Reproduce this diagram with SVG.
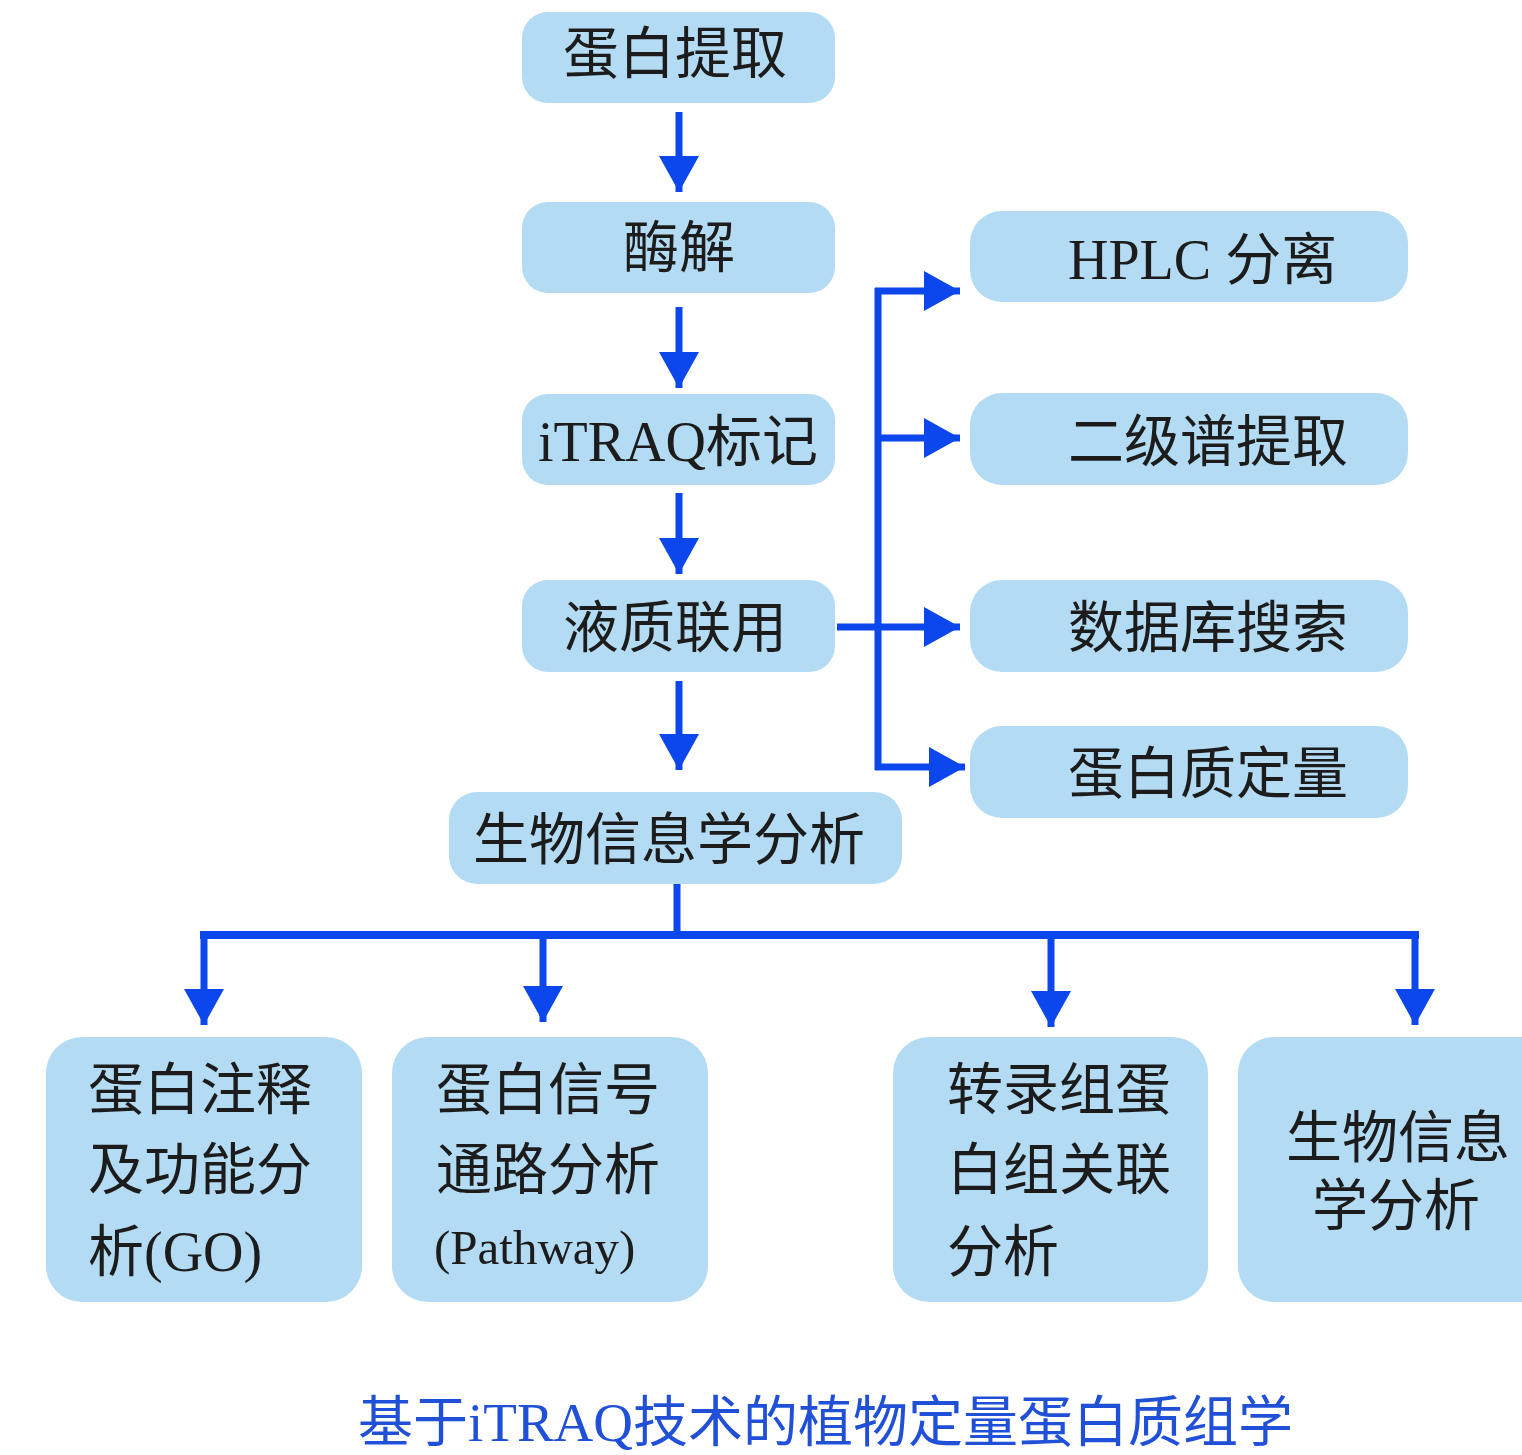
<svg xmlns="http://www.w3.org/2000/svg" width="1522" height="1455" viewBox="0 0 1522 1455">
<defs>
<style>
.box{fill:#b3dcf4;}
.t{font-family:"Noto Sans CJK SC","Noto Sans",sans-serif;font-size:56px;fill:#1c1c1c;}
.s{font-family:"Liberation Serif","Times New Roman",serif;}
.c{stroke:#0b47ec;stroke-width:7;fill:none;}
.cap{font-family:"Noto Sans CJK SC","Noto Sans",sans-serif;font-size:55px;fill:#2150d8;}
</style>
<marker id="ah" markerUnits="userSpaceOnUse" markerWidth="36" markerHeight="40" refX="36" refY="20" orient="auto" viewBox="0 0 36 40">
<path d="M0,0 L36,20 L0,40 z" fill="#0b47ec"/>
</marker>
</defs>
<rect width="1522" height="1455" fill="#ffffff"/>

<g id="connectors">
<path class="c" d="M679,112 V192" marker-end="url(#ah)"/>
<path class="c" d="M679,307 V388" marker-end="url(#ah)"/>
<path class="c" d="M679,493 V574" marker-end="url(#ah)"/>
<path class="c" d="M679,681 V770" marker-end="url(#ah)"/>
<path class="c" d="M878,288 V770"/>
<path class="c" d="M875,291 H960" marker-end="url(#ah)"/>
<path class="c" d="M878,438 H960" marker-end="url(#ah)"/>
<path class="c" d="M837,627 H960" marker-end="url(#ah)"/>
<path class="c" d="M875,767 H965" marker-end="url(#ah)"/>
<path class="c" d="M677,884 V935"/>
<path class="c" d="M200,935 H1419" style="stroke-width:8"/>
<path class="c" d="M204,931 V1025" marker-end="url(#ah)"/>
<path class="c" d="M543,931 V1022" marker-end="url(#ah)"/>
<path class="c" d="M1051,931 V1027" marker-end="url(#ah)"/>
<path class="c" d="M1415,931 V1025" marker-end="url(#ah)"/>
</g>

<g id="n1"><rect class="box" x="522" y="12" width="313" height="91" rx="26"/><text class="t" x="563" y="73">蛋白提取</text></g>
<g id="n2"><rect class="box" x="522" y="202" width="313" height="91" rx="26"/><text class="t" x="623" y="267">酶解</text></g>
<g id="n3"><rect class="box" x="522" y="394" width="313" height="91" rx="26"/><text class="t" x="538" y="461"><tspan class="s">iTRAQ</tspan>标记</text></g>
<g id="n4"><rect class="box" x="522" y="580" width="313" height="92" rx="26"/><text class="t" x="563" y="647">液质联用</text></g>
<g id="n5"><rect class="box" x="449" y="792" width="453" height="92" rx="28"/><text class="t" x="473" y="859">生物信息学分析</text></g>

<g id="r1"><rect class="box" x="970" y="211" width="438" height="91" rx="32"/><text class="t" x="1068" y="279"><tspan class="s">HPLC </tspan>分离</text></g>
<g id="r2"><rect class="box" x="970" y="393" width="438" height="92" rx="32"/><text class="t" x="1068" y="461">二级谱提取</text></g>
<g id="r3"><rect class="box" x="970" y="580" width="438" height="92" rx="32"/><text class="t" x="1068" y="647">数据库搜索</text></g>
<g id="r4"><rect class="box" x="970" y="726" width="438" height="92" rx="32"/><text class="t" x="1068" y="793">蛋白质定量</text></g>

<g id="b1"><rect class="box" x="46" y="1037" width="316" height="265" rx="36"/>
<text class="t" x="88" y="1109">蛋白注释</text>
<text class="t" x="88" y="1189">及功能分</text>
<text class="t" x="88" y="1271">析<tspan class="s">(GO)</tspan></text></g>
<g id="b2"><rect class="box" x="392" y="1037" width="316" height="265" rx="36"/>
<text class="t" x="436" y="1109">蛋白信号</text>
<text class="t" x="436" y="1189">通路分析</text>
<text class="t s" x="434" y="1264" style="font-size:49px">(Pathway)</text></g>
<g id="b3"><rect class="box" x="893" y="1037" width="315" height="265" rx="36"/>
<text class="t" x="947" y="1109">转录组蛋</text>
<text class="t" x="947" y="1189">白组关联</text>
<text class="t" x="947" y="1271">分析</text></g>
<g id="b4"><rect class="box" x="1238" y="1037" width="330" height="265" rx="36"/>
<text class="t" text-anchor="middle"><tspan x="1398" y="1157">生物信息</tspan><tspan x="1396" y="1225">学分析</tspan></text></g>

<text class="cap" x="358" y="1441">基于<tspan class="s">iTRAQ</tspan>技术的植物定量蛋白质组学</text>
</svg>
